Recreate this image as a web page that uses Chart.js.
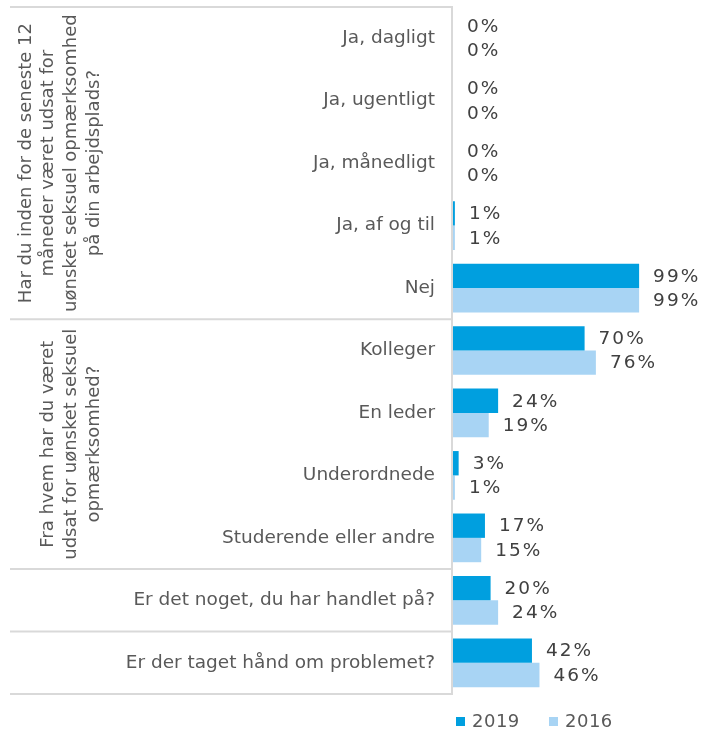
<!DOCTYPE html>
<html>
<head>
<meta charset="utf-8">
<script src="https://cdn.jsdelivr.net/npm/chart.js@4"></script>
<style>
html,body{margin:0;padding:0;background:#fff;}
#wrap{width:703px;height:732px;position:relative;}
</style>
</head>
<body>
<div id="wrap"><canvas id="chart"></canvas></div>
<script>

// data
let categories = [
"Ja, dagligt","Ja, ugentligt","Ja, månedligt","Ja, af og til","Nej",
"Kolleger","En leder","Underordnede","Studerende eller andre",
"Er det noget, du har handlet på?","Er der taget hånd om problemet?"
];
let values2019 = [0,0,0,1,99,70,24,3,17,20,42];
let values2016 = [0,0,0,1,99,76,19,1,15,24,46];
let seriesNames = ["2019","2016"];

// groups: first index, last index, lines of the rotated label
let groupStart = [0,5,9,10];
let groupEnd = [4,8,9,10];
let groupLines = [
["Har du inden for de seneste 12","måneder været udsat for","uønsket seksuel opmærksomhed","på din arbejdsplads?"],
["Fra hvem har du været","udsat for uønsket seksuel","opmærksomhed?"],
[],
[]
];

let colors = ["#009fdf","#a8d4f4"];
let lineColor = "#d9d9d9";
let fontName = "'DejaVu Sans', Verdana, sans-serif";

/* group labels, value labels, legend, separators */
let extras = {
id:'extras',
beforeDatasetsDraw:function(chart){
let ctx = chart.ctx;
let y = chart.scales.y;
ctx.save();
ctx.letterSpacing = "0px";
ctx.fillStyle = "#595959";
ctx.font = "18px " + fontName;
ctx.textAlign = "center";
ctx.textBaseline = "middle";
groupLines.forEach(function(lines,g){
if(!lines.length) return;
let cy = (y.getPixelForValue(groupStart[g]) + y.getPixelForValue(groupEnd[g]))/2;
let n = lines.length;
lines.forEach(function(txt,i){
let cx = 94 - (n-1-i)*22.7;
ctx.save();
ctx.translate(cx,cy);
ctx.rotate(-Math.PI/2);
ctx.fillText(txt,0,0);
ctx.restore();
});
});
ctx.restore();
},
afterDatasetsDraw:function(chart){
let ctx = chart.ctx;
ctx.save();
ctx.fillStyle = "#404040";
ctx.font = "18.5px " + fontName;
ctx.textAlign = "left";
ctx.textBaseline = "middle";
ctx.letterSpacing = "2px";
chart.data.datasets.forEach(function(ds,i){
let meta = chart.getDatasetMeta(i);
meta.data.forEach(function(bar,j){
ctx.fillText(ds.data[j]+"%", bar.x+14, bar.y+1);
});
});

// legend
ctx.letterSpacing = "0.5px";
ctx.font = "18px " + fontName;
let lx = [456,549];
chart.data.datasets.forEach(function(ds,i){
ctx.fillStyle = ds.backgroundColor;
ctx.fillRect(lx[i],717,9,9);
ctx.fillStyle = "#595959";
ctx.fillText(ds.label, lx[i]+16, 722);
});
ctx.letterSpacing = "0px";
ctx.restore();
},
afterDraw:function(chart){
let ctx = chart.ctx;
let y = chart.scales.y;
let area = chart.chartArea;
ctx.save();
ctx.strokeStyle = lineColor;
ctx.lineWidth = 2;

let bounds = [area.top];
groupEnd.forEach(function(e){
if(e < categories.length-1){
bounds.push((y.getPixelForValue(e)+y.getPixelForValue(e+1))/2);
}
});
bounds.push(area.bottom);
bounds.forEach(function(b){
ctx.beginPath();
ctx.moveTo(10,b);
ctx.lineTo(area.left,b);
ctx.stroke();
});

// axis line
ctx.beginPath();
ctx.moveTo(area.left-1,area.top-1);
ctx.lineTo(area.left-1,area.bottom+1);
ctx.stroke();
ctx.restore();
}
};

new Chart(document.getElementById("chart"),{
type:'bar',
data:{
labels:categories,
datasets:[{
label:seriesNames[0],
data:values2019,
backgroundColor:colors[0]
},{
label:seriesNames[1],
data:values2016,
backgroundColor:colors[1]
}]
},
options:{
indexAxis:'y',
responsive:true,
maintainAspectRatio:false,
animation:false,
categoryPercentage:0.78,
barPercentage:1.0,
layout:{
padding:{left:0,right:62,top:7,bottom:38}
},
plugins:{
legend:{display:false},
tooltip:{enabled:false}
},
scales:{
x:{
display:false,
min:0,
max:100
},
y:{
afterFit:function(scale){
scale.width = 453;
scale.paddingTop = 0;
scale.paddingBottom = 0;
},
grid:{display:false},
border:{display:false},
ticks:{
color:"#595959",
padding:10,
font:{family:fontName,size:18.5}
}
}
}
},
plugins:[extras]
});

</script>
</body>
</html>
